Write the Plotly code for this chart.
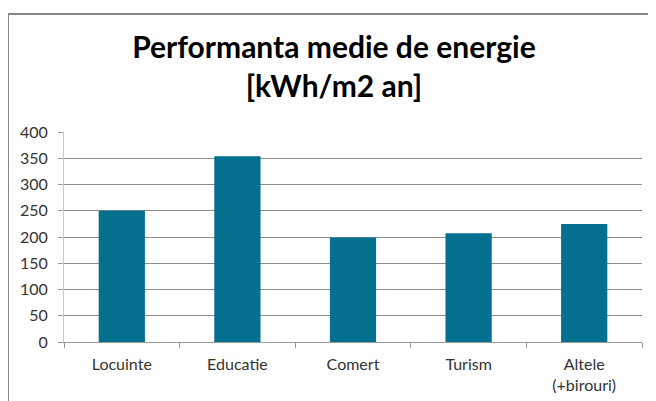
import plotly.graph_objs as go

# date
categorii = ['Locuinte', 'Educatie', 'Comert', 'Turism', 'Altele<br>(+birouri)']
valori = [250, 354, 199, 207, 225]
y_ticks = [0, 50, 100, 150, 200, 250, 300, 350, 400]

bar_color = '#03708F'
grid_color = '#8C8C8C'
font_family = 'Lato, Open Sans, sans-serif'

# pagina are margin 8px pe body -> figura e cu 8px mai mica
W, H = 648, 393
ML, MR, MT, MB = 56, 14, 124, 59
PW, PH = W - ML - MR, H - MT - MB

fig = go.Figure(data=[go.Bar(
    x=categorii,
    y=valori,
    marker=dict(color=bar_color, line=dict(width=0)),
    hovertemplate='<b>%{x}</b><br>%{y} kWh/m2 an<extra></extra>'
)])

fig.update_layout(
    width=W,
    height=H,
    margin=dict(l=ML, r=MR, t=MT, b=MB, autoexpand=False),
    paper_bgcolor='white',
    plot_bgcolor='white',
    bargap=0.6,
    showlegend=False,
    font=dict(family=font_family, size=16, color='#333333'),
    title=dict(
        text='<b>Performanta medie de energie<br>[kWh/m2 an]</b>',
        font=dict(family=font_family, size=30, color='black'),
        x=0.467, xref='paper', xanchor='center',
        y=0.872, yref='container', yanchor='top'
    ),
    xaxis=dict(
        showgrid=False,
        showline=True,
        linecolor='#9A9A9A',
        ticks='outside',
        tickson='boundaries',
        ticklen=5,
        tickcolor='#9A9A9A',
        ticklabelstandoff=8,
        automargin=False,
        tickfont=dict(size=16, color='#333333'),
    ),
    yaxis=dict(
        range=[0, 400],
        tickmode='array',
        tickvals=y_ticks,
        showgrid=True,
        gridcolor=grid_color,
        gridwidth=1,
        zeroline=False,
        showline=True,
        linecolor='#C8C8C8',
        ticks='outside',
        ticklen=5,
        tickcolor='#9A9A9A',
        ticklabelstandoff=7,
        automargin=False,
        tickfont=dict(size=16, color='#333333'),
    ),
    # chenarul graficului (Excel)
    shapes=[dict(
        type='rect', xref='paper', yref='paper',
        x0=(0 - ML) / PW, x1=(W + 20 - ML) / PW,
        y0=-(MB + 20) / PH, y1=(H - MB - 6) / PH,
        line=dict(color='#868686', width=2),
        layer='below'
    )]
)

fig.write_html("out.html")
